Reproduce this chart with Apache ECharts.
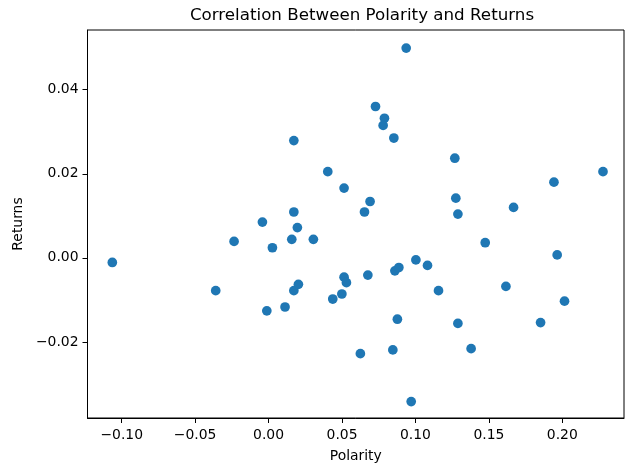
<!DOCTYPE html>
<html>
<head>
<meta charset="utf-8">
<script src="https://cdn.jsdelivr.net/npm/echarts@6/dist/echarts.min.js"></script>
<style>
  html, body { margin: 0; padding: 0; background: #fff; }
  #chart { width: 625px; height: 468px; }
</style>
</head>
<body>
<div id="chart"></div>
<script>
var polarity = [
  -0.1064, -0.0360, -0.0235, -0.0042, -0.0012, 0.0026, 0.0112, 0.0158, 0.0172, 0.0172,
  0.0172, 0.0196, 0.0203, 0.0305, 0.0403, 0.0437, 0.0499, 0.0514, 0.0514, 0.0530,
  0.0625, 0.0653, 0.0676, 0.0691, 0.0728, 0.0780, 0.0789, 0.0846, 0.0853, 0.0860,
  0.0877, 0.0887, 0.0937, 0.0971, 0.1003, 0.1082, 0.1157, 0.1268, 0.1275, 0.1289,
  0.1289, 0.1379, 0.1475, 0.1616, 0.1668, 0.1852, 0.1943, 0.1965, 0.2015, 0.2277
];
var returns = [
  -0.0011, -0.0078, 0.0039, 0.0085, -0.0126, 0.0024, -0.0117, 0.0044, 0.0109, 0.0279,
  -0.0078, 0.0072, -0.0063, 0.0044, 0.0205, -0.0098, -0.0086, 0.0166, -0.0046, -0.0059,
  -0.0228, 0.0109, -0.0041, 0.0134, 0.0360, 0.0315, 0.0332, -0.0219, 0.0285, -0.0031,
  -0.0146, -0.0023, 0.0499, -0.0342, -0.0005, -0.0018, -0.0078, 0.0237, 0.0142, 0.0104,
  -0.0156, -0.0216, 0.0036, -0.0068, 0.0120, -0.0154, 0.0180, 0.0007, -0.0103, 0.0205
];
var xTicks = [-0.10, -0.05, 0.00, 0.05, 0.10, 0.15, 0.20];
var yTicks = [-0.02, 0.00, 0.02, 0.04];

var chart = echarts.init(document.getElementById('chart'));
var font = 'DejaVu Sans';

function fmt (v) {
  return v.toFixed(2).replace('-', '\u2212');
}

var points = [];
for (var i = 0; i < polarity.length; i++) {
  points.push([polarity[i], returns[i]]);
}

chart.setOption({
  animation: false,
  backgroundColor: '#fff',
  title: {
    text: 'Correlation Between Polarity and Returns',
    left: 357,
    top: 2,
    textAlign: 'center',
    textStyle: { fontFamily: font, fontSize: 16.7, fontWeight: 'normal', color: '#000' }
  },
  grid: {
    left: 87.5,
    right: 1,
    top: 30,
    bottom: 49.7,
    show: true,
    borderColor: '#000',
    borderWidth: 1,
    backgroundColor: 'transparent'
  },
  xAxis: {
    type: 'value',
    min: -0.1233,
    max: 0.242,
    name: 'Polarity',
    nameLocation: 'middle',
    nameGap: 31,
    nameTextStyle: { fontFamily: font, fontSize: 13.9, color: '#000' },
    axisLine: { show: true, onZero: false, lineStyle: { color: '#000', width: 1 } },
    axisTick: { show: true, length: 5, lineStyle: { color: '#000', width: 1 }, customValues: xTicks },
    axisLabel: {
      fontFamily: font, fontSize: 13.9, color: '#000', margin: 10,
      customValues: xTicks,
      formatter: fmt
    },
    splitLine: { show: false }
  },
  yAxis: {
    type: 'value',
    min: -0.0381,
    max: 0.0542,
    name: 'Returns',
    nameLocation: 'middle',
    nameGap: 62,
    nameTextStyle: { fontFamily: font, fontSize: 13.9, color: '#000' },
    axisLine: { show: true, onZero: false, lineStyle: { color: '#000', width: 1 } },
    axisTick: { show: true, length: 5, lineStyle: { color: '#000', width: 1 }, customValues: yTicks },
    axisLabel: {
      fontFamily: font, fontSize: 13.9, color: '#000', margin: 9,
      customValues: yTicks,
      formatter: fmt
    },
    splitLine: { show: false }
  },
  series: [{
    type: 'scatter',
    data: points,
    symbolSize: 9.7,
    itemStyle: { color: '#1f77b4', opacity: 1 }
  }]
});
</script>
</body>
</html>
